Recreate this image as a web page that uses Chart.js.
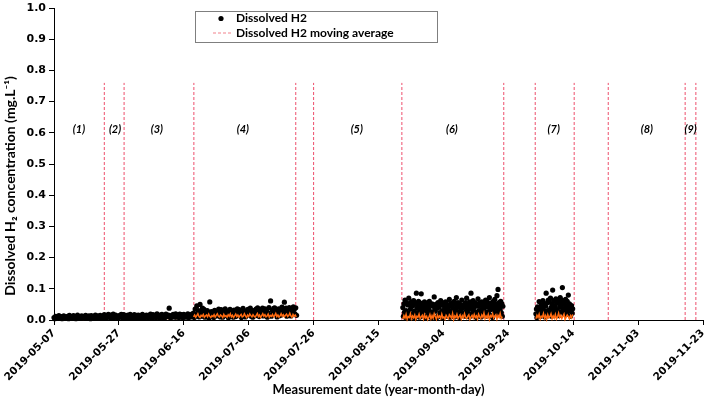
<!DOCTYPE html>
<html><head><meta charset="utf-8">
<script src="https://cdn.jsdelivr.net/npm/chart.js@4"></script>
<style>html,body{margin:0;padding:0;background:#fff}</style>
</head><body>
<canvas id="c" width="709" height="401"></canvas>
<script>
// ---------- DATA ----------
const tickLabels = ['2019-05-07','2019-05-27','2019-06-16','2019-07-06','2019-07-26','2019-08-15','2019-09-04','2019-09-24','2019-10-14','2019-11-03','2019-11-23'];
const tickStepDays = 20;
const axisMaxDays = 200;

// vertical period boundaries (days after 2019-05-07)
const boundaryDays = [15.5, 21.6, 43.1, 74.5, 80, 107.2, 138.6, 148.3, 160.3, 170.8, 194.5, 197.8];
const boundaryTop = 0.76;

const periodNames = ['(1)','(2)','(3)','(4)','(5)','(6)','(7)','(8)','(9)'];
const periodLabelDays = [7.7, 18.8, 31.7, 58.2, 93.3, 122.6, 154, 182.7, 196.2];
const periodLabelLevel = 0.61;

// measurement runs: start day, readings per day
const runStartDays = [0, 107.5, 148.5];
const h2ReadingsPerDay = [4, 6, 6];
const maReadingsPerDay = 3;

// Dissolved H2 readings, µg/L (= 0.001 mg/L)
const h2Run1 = [
 8,4,12,6, 10,5,14,7, 6,11,4,9, 13,7,5,10, 8,12,4,15, 6,9,11,5, 14,7,10,4, 9,16,6,11,
 5,10,13,7, 12,6,9,15, 7,11,5,13, 10,4,14,8, 6,12,9,16, 11,5,13,7, 8,15,6,10,
 12,7,17,9, 6,14,10,18, 13,8,16,5, 10,19,7,14, 16,9,12,6, 8,15,11,18, 14,6,17,10,
 9,13,5,16, 12,7,18,10, 6,14,9,17, 11,5,15,8, 16,10,7,13, 8,18,12,6, 13,9,16,11,
 7,15,10,19, 12,6,17,9, 10,14,8,20, 15,11,7,16, 9,18,13,6, 14,8,19,11, 12,16,38,9,
 7,15,11,18, 13,9,20,10, 16,12,8,19, 10,17,14,7, 18,11,15,9, 12,20,8,16, 15,10,19,13,
 22,8,35,14, 45,18,30,10, 50,25,12,38, 20,34,9,28, 15,30,22,6, 58,19,27,11, 24,8,31,16,
 13,28,20,35, 26,10,33,18, 9,29,21,36, 30,14,25,7, 19,34,12,27, 28,9,32,17, 11,26,36,20,
 33,15,24,8, 22,37,13,29, 10,27,19,34, 31,16,38,12, 25,9,30,21, 14,35,23,39, 29,11,33,18,
 20,38,13,27, 36,17,28,9, 23,40,15,61, 12,32,26,37, 39,19,30,10, 27,36,14,33, 16,41,24,35,
 57,22,38,12, 31,18,40,25, 13,36,28,42, 34,20,39,15
];
const h2Run2 = [
 40,12,52,25,64,8, 30,56,15,48,5,70, 22,50,35,10,58,44, 46,18,62,28,6,52, 14,86,38,50,24,60,
 42,9,55,32,84,20, 50,27,40,12,58,36, 8,46,30,54,18,42, 35,60,16,48,26,7, 52,22,44,11,74,33,
 28,50,6,45,38,56, 15,42,52,24,62,10, 48,30,8,55,20,44, 38,58,26,12,50,34, 20,46,66,30,9,52,
 44,16,54,36,24,60, 10,50,32,72,18,42, 56,26,44,8,50,30, 34,64,14,48,40,22, 46,12,56,28,70,40,
 24,52,36,10,58,46, 86,20,50,32,62,14, 40,56,26,46,8,52, 18,68,44,30,54,22, 48,10,58,36,24,52,
 30,46,16,64,42,12, 58,26,50,20,72,38, 14,54,34,48,8,60, 44,22,66,36,52,28, 78,40,98,18,56,48,
 34,60,24,52,12,44
];
const h2Run3 = [
 20,35,8,42,15,30, 59,24,40,12,48,28, 36,62,18,50,30,10, 44,86,26,55,14,64, 32,58,20,70,40,12,
 50,96,28,62,16,46, 38,68,22,54,30,60, 14,56,42,72,26,48, 64,104,36,58,20,50, 30,66,44,18,60,38,
 80,28,52,40,12,34, 46,22,36
];

// Moving average, µg/L
const maRun1Early = [ // days 0-43, 2 per day
 2,3,2,4,3,2,3,4,2,3,3,2,4,3,2,3,4,3,2,3,3,4,2,3,4,3,3,2,4,3,
 5,6,4,7,6,8,5,7,6,5,7,6,4,6,
 4,5,3,6,5,4,6,5,3,5,6,4,5,7,4,5,6,4,5,6,3,5,7,5,4,6,5,4,6,5,7,4,5,6,5,4,6,7,5,6,5,7
];
const maRun1EarlyPerDay = 2;
const maRun1LateStart = 43;
const maRun1Late = [
 10,16,9,14,20,11, 8,15,12,18,9,13, 16,10,19,12,8,14, 11,17,9,15,20,12, 10,16,13,8,18,11,
 14,9,17,12,20,10, 15,8,13,19,11,16, 9,14,18,10,12,20, 13,8,16,11,19,14, 10,17,12,9,15,21,
 11,16,8,14,20,12, 17,10,13,19,9,15, 12,18,10,14,21,11, 16,9,13,20,12,17, 10,15,19,11,14,22,
 13,9,18,12,16,10
];
const maRun2 = [
 3,14,6,18,2,11, 8,20,4,13,7,16, 2,12,9,19,5,10, 15,3,17,7,12,1, 9,18,4,14,6,20,
 11,2,16,8,13,5, 19,7,10,3,15,9, 4,17,12,6,21,2, 13,8,18,5,11,16, 3,14,7,20,9,4,
 12,17,2,10,15,6, 18,8,13,3,19,11, 5,16,9,22,4,13, 7,18,2,14,10,20, 6,12,17,3,15,8,
 21,5,11
];
const maRun3 = [
 4,15,8,19,3,12, 9,21,5,14,2,17, 7,11,20,4,13,6, 18,3,10,22,8,15, 5,12,19,2,9,16, 11,4,14,7,18
];

// ---------- BUILD ----------
const ORANGE = '#FF6A10';
const LINE_RED = '#EE4F6C';
function series(values, startDay, perDay) {
  return values.map((v, i) => ({ x: startDay + i / perDay, y: v / 1000 }));
}
const dots = [].concat(
  series(h2Run1, runStartDays[0], h2ReadingsPerDay[0]),
  series(h2Run2, runStartDays[1], h2ReadingsPerDay[1]),
  series(h2Run3, runStartDays[2], h2ReadingsPerDay[2])
);
const maStyle = { showLine: true, borderColor: ORANGE, backgroundColor: ORANGE, borderWidth: 1.5, pointRadius: 0, clip: false };
const datasets = [
  Object.assign({ label: 'Dissolved H2 moving average', data: series(maRun1Late, maRun1LateStart, maReadingsPerDay), order: 0 }, maStyle),
  Object.assign({ label: 'ma2', data: series(maRun2, runStartDays[1], maReadingsPerDay), order: 0 }, maStyle),
  Object.assign({ label: 'ma3', data: series(maRun3, runStartDays[2], maReadingsPerDay), order: 0 }, maStyle),
  { label: 'Dissolved H2', data: dots, pointRadius: 2.6, pointBackgroundColor: '#000', pointBorderColor: '#000', pointBorderWidth: 0, showLine: false, order: 1, clip: false },
  Object.assign({ label: 'ma1', data: series(maRun1Early, runStartDays[0], maRun1EarlyPerDay), order: 2 }, maStyle)
];
boundaryDays.forEach(d => datasets.push({
  label: 'boundary', data: [{ x: d, y: 0 }, { x: d, y: boundaryTop }], showLine: true,
  borderColor: LINE_RED, borderWidth: 1, borderDash: [3, 2], pointRadius: 0, order: 3
}));

const TICK_FONT = { family: '"DejaVu Sans", Verdana, sans-serif', weight: 'bold', size: 10.5 };

const overlay = {
  id: 'overlay',
  afterDraw(chart) {
    const ctx = chart.ctx, xs = chart.scales.x, ys = chart.scales.y;
    ctx.save();
    // period labels
    ctx.fillStyle = '#000';
    ctx.font = 'italic bold 11px Lato, "Open Sans", sans-serif';
    ctx.textAlign = 'center'; ctx.textBaseline = 'middle';
    periodNames.forEach((n, i) => ctx.fillText(n, xs.getPixelForValue(periodLabelDays[i]), ys.getPixelForValue(periodLabelLevel)));
    // y axis title
    ctx.save();
    ctx.translate(10, 186);
    ctx.rotate(-Math.PI / 2);
    ctx.font = 'bold 14px Lato, "DejaVu Sans", sans-serif';
    ctx.fillText('Dissolved H\u2082 concentration (mg.L\u207B\u00B9)', 0, 0);
    ctx.restore();
    // legend
    ctx.fillStyle = '#fff'; ctx.strokeStyle = '#7f7f7f'; ctx.lineWidth = 1;
    ctx.fillRect(195.5, 11.5, 242, 31); ctx.strokeRect(195.5, 11.5, 242, 31);
    ctx.fillStyle = '#000';
    ctx.beginPath(); ctx.arc(221, 18.5, 2.6, 0, Math.PI * 2); ctx.fill();
    ctx.strokeStyle = '#F2828C'; ctx.lineWidth = 1.2; ctx.setLineDash([3, 2]);
    ctx.beginPath(); ctx.moveTo(213, 33); ctx.lineTo(233, 33); ctx.stroke();
    ctx.setLineDash([]);
    ctx.font = 'bold 12px Lato, "Open Sans", sans-serif';
    ctx.textAlign = 'left';
    ctx.fillText('Dissolved H2', 236, 18.5);
    ctx.fillText('Dissolved H2 moving average', 236, 33);
    ctx.restore();
  }
};

new Chart(document.getElementById('c'), {
  type: 'scatter',
  data: { datasets },
  plugins: [overlay],
  options: {
    responsive: false, animation: false, devicePixelRatio: 1,
    layout: { padding: { left: 0, right: 6, top: 8, bottom: 0 } },
    plugins: { legend: { display: false }, tooltip: { enabled: false } },
    scales: {
      x: {
        type: 'linear', min: 0, max: axisMaxDays,
        grid: { drawOnChartArea: false, drawTicks: true, tickLength: 5, color: '#000' },
        border: { color: '#000', width: 1 },
        ticks: { stepSize: tickStepDays, autoSkip: false, minRotation: 45, maxRotation: 45, color: '#000', font: TICK_FONT, padding: 2,
          callback: v => tickLabels[Math.round(v / tickStepDays)] },
        title: { display: true, text: 'Measurement date (year-month-day)', color: '#000',
          font: { family: 'Lato, "Open Sans", sans-serif', weight: 'bold', size: 13 }, padding: { top: 0, bottom: 3 } },
        afterFit(s) { s.height = 81; s.paddingLeft = 0; s.paddingRight = 0; }
      },
      y: {
        min: 0, max: 1,
        grid: { drawOnChartArea: false, drawTicks: true, tickLength: 5, color: '#000' },
        border: { color: '#000', width: 1 },
        ticks: { stepSize: 0.1, color: '#000', font: { family: '"DejaVu Sans", Verdana, sans-serif', weight: 'bold', size: 11 }, padding: 3,
          callback: v => v.toFixed(1) },
        afterFit(s) { s.width = 54; s.paddingTop = 0; s.paddingBottom = 0; }
      }
    }
  }
});
</script>
</body></html>
